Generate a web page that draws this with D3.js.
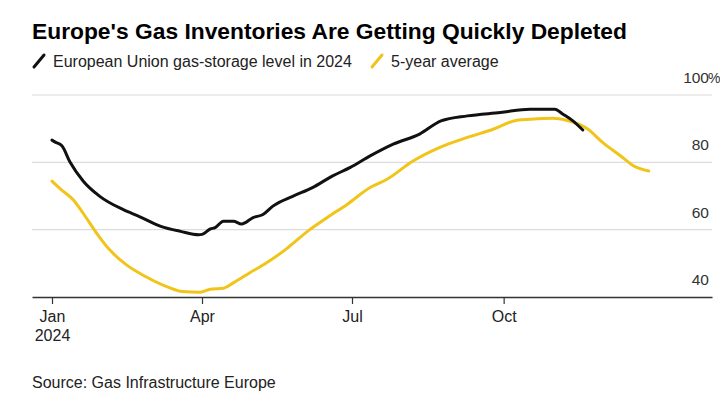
<!DOCTYPE html>
<html>
<head>
<meta charset="utf-8">
<script src="https://cdn.jsdelivr.net/npm/d3@7"></script>
<style>
  html, body { margin: 0; padding: 0; background: #fff; }
  svg { display: block; font-family: "Liberation Sans", Arial, sans-serif; }
</style>
</head>
<body>
<svg id="chart" width="720" height="420"></svg>
<script>
// ---- Data ----
const euDates = ["2024-01-01","2024-01-03","2024-01-07","2024-01-12","2024-01-20","2024-01-30","2024-02-13","2024-02-23","2024-03-07","2024-03-19","2024-03-30","2024-04-01","2024-04-06","2024-04-09","2024-04-14","2024-04-20","2024-04-25","2024-05-02","2024-05-08","2024-05-14","2024-05-26","2024-06-07","2024-06-19","2024-06-30","2024-07-12","2024-07-26","2024-08-11","2024-08-24","2024-09-09","2024-09-29","2024-10-17","2024-11-01","2024-11-06","2024-11-12","2024-11-18"];
const euValues = [86.6,86.0,84.9,80.0,74.4,69.9,66.0,63.9,61.0,59.5,58.5,58.6,60.2,60.6,62.5,62.5,61.7,63.6,64.5,67.0,69.9,72.5,75.9,78.5,81.9,85.4,88.4,92.3,93.8,94.8,95.8,95.8,94.3,92.3,89.6];

const avgDates = ["2024-01-01","2024-01-06","2024-01-14","2024-01-20","2024-01-28","2024-02-05","2024-02-15","2024-02-27","2024-03-11","2024-03-20","2024-03-31","2024-04-06","2024-04-14","2024-04-20","2024-04-30","2024-05-10","2024-05-23","2024-06-04","2024-06-16","2024-06-28","2024-07-12","2024-07-22","2024-08-07","2024-08-23","2024-09-09","2024-09-25","2024-10-09","2024-10-17","2024-10-31","2024-11-08","2024-11-21","2024-11-30","2024-12-11","2024-12-19","2024-12-28"];
const avgValues = [74.4,72.1,68.8,64.8,59.0,54.0,49.6,46.0,43.0,41.6,41.4,42.3,42.6,44.2,47.2,50.1,54.6,59.5,63.6,67.5,72.5,74.9,80.4,84.4,87.4,89.9,92.5,92.8,93.1,92.5,89.9,85.9,81.9,78.9,77.4];

const yTicks = [40, 60, 80, 100];
const xTickDates = ["2024-01-01","2024-04-01","2024-07-01","2024-10-01"];
const xTickLabels = ["Jan", "Apr", "Jul", "Oct"];
const seriesNames = ["European Union gas-storage level in 2024", "5-year average"];

const title = "Europe's Gas Inventories Are Getting Quickly Depleted";
const source = "Source: Gas Infrastructure Europe";

// ---- Layout ----
const svg = d3.select("#chart");
const plotLeft = 32, plotRight = 712, plotTop = 95, plotBottom = 297;
const colors = ["#111111", "#f0c419"];
const textColor = "#222";
const parse = d3.utcParse("%Y-%m-%d");

// x scale: Jan 1 at 52, Apr 1 at 202 -> extend to the axis ends
const x0 = d3.scaleUtc().domain([parse("2024-01-01"), parse("2024-04-01")]).range([52, 202]);
const x = d3.scaleUtc().domain([x0.invert(plotLeft), x0.invert(plotRight)]).range([plotLeft, plotRight]);
const y = d3.scaleLinear().domain([40, 100]).range([plotBottom, plotTop]);

// Title
svg.append("text").attr("x", 32).attr("y", 39)
  .attr("font-size", 22.8).attr("font-weight", "bold").attr("fill", "#000")
  .text(title);

// Legend
const legend = svg.append("g");
const legX = [34, 372];
seriesNames.forEach((name, i) => {
  legend.append("line")
    .attr("x1", legX[i]).attr("y1", 67).attr("x2", legX[i] + 10).attr("y2", 55)
    .attr("stroke", colors[i]).attr("stroke-width", 3).attr("stroke-linecap", "round");
  legend.append("text").attr("x", legX[i] + 19).attr("y", 67)
    .attr("font-size", 16).attr("fill", textColor).text(name);
});

// Gridlines + y labels
const grid = svg.append("g");
yTicks.filter(v => v !== 40).forEach(v => {
  grid.append("line").attr("x1", plotLeft).attr("x2", plotRight)
    .attr("y1", y(v)).attr("y2", y(v))
    .attr("stroke", "#dcdcdc").attr("stroke-width", 1.2);
});
yTicks.forEach(v => {
  grid.append("text").attr("x", 709).attr("y", y(v) - 12)
    .attr("text-anchor", "end").attr("font-size", 15.5).attr("fill", "#333")
    .text(v);
  if (v === 100) {
    grid.append("text").attr("x", 708).attr("y", y(v) - 12)
      .attr("font-size", 14).attr("fill", "#333").text("%");
  }
});

// X axis
const xAxis = d3.axisBottom(x)
  .tickValues(xTickDates.map(parse))
  .tickSize(7).tickSizeOuter(0)
  .tickFormat((d, i) => xTickLabels[i]);
const gx = svg.append("g").attr("transform", `translate(0,${plotBottom})`).call(xAxis);
gx.select(".domain").attr("stroke", "#333").attr("stroke-width", 1.6);
gx.selectAll(".tick line").attr("stroke", "#333").attr("stroke-width", 1.2);
gx.selectAll(".tick text").attr("font-size", 16).attr("fill", textColor)
  .attr("font-family", "'Liberation Sans', Arial, sans-serif")
  .attr("dy", "0.9em").attr("y", 11);
gx.selectAll(".tick").filter((d, i) => i === 0).append("text")
  .attr("y", 30).attr("dy", "0.9em").attr("text-anchor", "middle")
  .attr("font-size", 16).attr("fill", textColor).text("2024");

// Lines
const line = d3.line().x(d => x(d[0])).y(d => y(d[1])).curve(d3.curveMonotoneX);
const avgData = avgDates.map((d, i) => [parse(d), avgValues[i]]);
const euData = euDates.map((d, i) => [parse(d), euValues[i]]);
svg.append("path").datum(avgData).attr("d", line)
  .attr("fill", "none").attr("stroke", colors[1]).attr("stroke-width", 3)
  .attr("stroke-linejoin", "round").attr("stroke-linecap", "round");
svg.append("path").datum(euData).attr("d", line)
  .attr("fill", "none").attr("stroke", colors[0]).attr("stroke-width", 3)
  .attr("stroke-linejoin", "round").attr("stroke-linecap", "round");

// Source
svg.append("text").attr("x", 32).attr("y", 388)
  .attr("font-size", 16).attr("fill", textColor).text(source);
</script>
</body>
</html>
